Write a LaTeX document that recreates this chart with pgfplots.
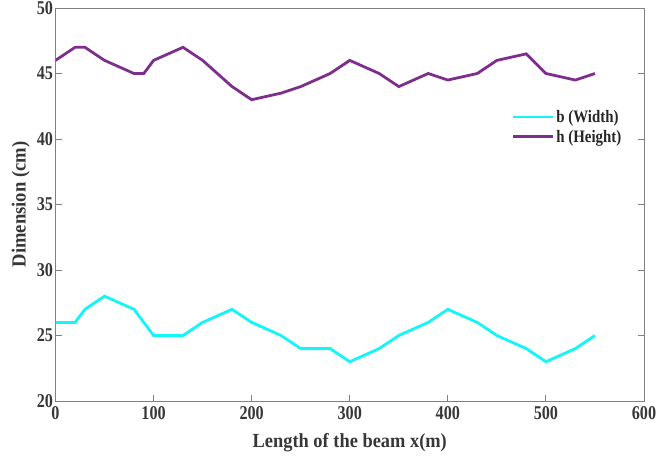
\documentclass[border=0pt]{standalone}
\usepackage{pgfplots}
\pgfplotsset{compat=1.18}
\usepackage{graphicx}
\usepackage{fontspec}
\setmainfont{Liberation Serif}
\definecolor{hcol}{RGB}{126,47,142}
\definecolor{bcol}{RGB}{20,245,250}
\definecolor{axgray}{RGB}{128,128,128}
\definecolor{txt}{RGB}{55,55,55}
\newcommand\sqz[1]{\scalebox{0.83}[1]{#1}}

\begin{document}
\begin{tikzpicture}
\begin{axis}[
  scale only axis, width=588.5pt, height=393pt,
  xmin=0, xmax=600, ymin=20, ymax=50,
  xtick={0,100,...,600}, ytick={20,25,...,50},
  axis line style={axgray, line width=0.9pt},
  major tick style={axgray, line width=0.9pt},
  major tick length=6pt, tick align=inside,
  xtick pos=bottom,
  tick label style={font=\bfseries\fontsize{19.5}{19.5}\selectfont, text=txt},
  xticklabel style={yshift=-2pt},
  yticklabel style={xshift=1pt},
  xticklabel={\sqz{\pgfmathprintnumber[assume math mode=true]{\tick}}},
  yticklabel={\sqz{\pgfmathprintnumber[assume math mode=true]{\tick}}},
  xlabel={\scalebox{0.92}[1]{Length of the beam x(m)}},
  ylabel={\scalebox{0.93}[1]{Dimension (cm)}},
  label style={font=\bfseries\fontsize{20}{20}\selectfont, text=txt},
  xlabel style={yshift=-7pt},
  ylabel style={yshift=0pt},
  legend style={at={(rel axis cs:0.773,0.748)}, anchor=north west, draw=none, fill=none,
    font=\bfseries\fontsize{17.5}{17.5}\selectfont, text=black!85, row sep=2pt, inner sep=1pt},
  legend cell align=left,
  legend image code/.code={\draw[#1] (0pt,0pt) -- (40pt,0pt);},
]
\addplot[bcol, line width=2.8pt] coordinates {
(0,26)(20,26)(30,27)(50,28)(80,27)(100,25)(130,25)(150,26)(180,27)(200,26)
(230,25)(250,24)(280,24)(300,23)(330,24)(350,25)(380,26)(400,27)(430,26)
(450,25)(480,24)(500,23)(530,24)(550,25)};
\addlegendentry{\scalebox{0.85}[1]{b (Width)}}
\addplot[hcol, line width=2.8pt] coordinates {
(0,46)(20,47)(30,47)(50,46)(80,45)(90,45)(100,46)(130,47)(150,46)(180,44)
(200,43)(230,43.5)(250,44)(280,45)(300,46)(330,45)(350,44)(380,45)(400,44.5)
(430,45)(450,46)(480,46.5)(500,45)(530,44.5)(550,45)};
\addlegendentry{\scalebox{0.85}[1]{h (Height)}}
\draw[axgray, line width=0.9pt] (rel axis cs:0,1) -- (rel axis cs:1,1) -- (rel axis cs:1,0);
\coordinate (bl) at (rel axis cs:0,0);
\coordinate (tr) at (rel axis cs:1,1);
\end{axis}
\pgfresetboundingbox
\path[use as bounding box] ([shift={(-55.5pt,-56pt)}]bl) rectangle ([shift={(22pt,8pt)}]tr);
\end{tikzpicture}
\end{document}
